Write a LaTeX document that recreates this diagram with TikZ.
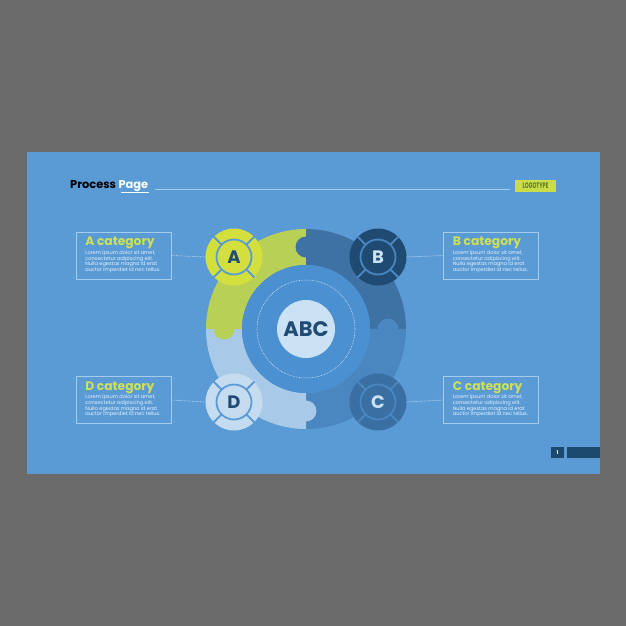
\documentclass[tikz,border=0pt]{standalone}
\usepackage{fontspec}
\setmainfont{Poppins}
\usetikzlibrary{calc}
\definecolor{bggray}{HTML}{6B6B6B}
\definecolor{slide}{HTML}{5A9BD6}
\definecolor{Aseg}{HTML}{B9D056}
\definecolor{Bseg}{HTML}{3E72A4}
\definecolor{Cseg}{HTML}{4A86C0}
\definecolor{Dseg}{HTML}{A8CAE8}
\definecolor{innerdisk}{HTML}{4B90D0}
\definecolor{abcfill}{HTML}{CBE1F4}
\definecolor{Acirc}{HTML}{D3DF3D}
\definecolor{Bcirc}{HTML}{1F4A72}
\definecolor{Ccirc}{HTML}{3A6FA3}
\definecolor{Dcirc}{HTML}{C5DCF0}
\definecolor{navy}{HTML}{1F4B74}
\definecolor{headcol}{HTML}{D0DF55}
\definecolor{bodycol}{HTML}{E8F1FA}
\definecolor{boxline}{HTML}{A5CBED}
\definecolor{pagedark}{HTML}{1C4A6E}
\definecolor{logofill}{HTML}{C9DC4A}
\definecolor{logotext}{HTML}{5F7A1E}
\tikzset{
  catbox/.style={draw=boxline, line width=0.7pt, minimum width=95pt, minimum height=47pt, inner sep=0pt},
  head/.style={font=\fontsize{12.3}{14}\selectfont\bfseries, text=headcol, inner sep=0pt},
  body/.style={font=\fontsize{5.05}{5.6}\selectfont, text=bodycol, inner sep=0pt, align=left},
  link/.style={densely dotted, draw=bodycol, line width=0.6pt},
  smallc/.style={circle, minimum size=57pt, inner sep=0pt},
  innerc/.style={circle, minimum size=35pt, inner sep=0pt, line width=1.8pt},
  letter/.style={font=\fontsize{18}{18}\selectfont\bfseries, inner sep=0pt}
}
\begin{document}
\begin{tikzpicture}[x=1pt,y=-1pt]
\useasboundingbox (0,0) rectangle (626,626);
\fill[bggray] (0,0) rectangle (626,626);
\fill[slide] (27,152) rectangle (600,474);
% header
\node[anchor=base west, inner sep=0pt, font=\fontsize{11.4}{13}\selectfont\bfseries] (title) at (70,188) {\textcolor{black}{Process} \textcolor{white}{Page}};
\draw[white, line width=0.9pt] (121,192.5) -- (149,192.5);
\draw[boxline, line width=0.8pt] (155,189) -- (510,189);
\node[fill=logofill, minimum width=41pt, minimum height=12pt, inner sep=0pt, text=logotext, font=\fontsize{8}{8}\selectfont\bfseries] (logo) at (535.5,185.5) {\scalebox{0.62}[1]{LOGOTYPE}};
% ring sectors
\coordinate (O) at (306,329);
\fill[Aseg] (206,329) arc[start angle=180,end angle=270,radius=100] -- (306,265) arc[start angle=270,end angle=180,radius=64] -- cycle;
\fill[Bseg] (306,229) arc[start angle=270,end angle=360,radius=100] -- (370,329) arc[start angle=0,end angle=-90,radius=64] -- cycle;
\fill[Cseg] (406,329) arc[start angle=0,end angle=90,radius=100] -- (306,393) arc[start angle=90,end angle=0,radius=64] -- cycle;
\fill[Dseg] (306,429) arc[start angle=90,end angle=180,radius=100] -- (242,329) arc[start angle=180,end angle=90,radius=64] -- cycle;
% tabs
\fill[Bseg] (306,247) circle[radius=10.5];
\fill[Aseg] (224,329) circle[radius=10.5];
\fill[Cseg] (388,329) circle[radius=10.5];
\fill[Dseg] (306,411) circle[radius=10.5];
% inner
\fill[innerdisk] (O) circle[radius=64];
\draw[bodycol, densely dotted, line width=0.6pt] (O) circle[radius=49];
\node[circle, fill=abcfill, minimum size=58pt, inner sep=0pt, text=navy, font=\fontsize{21}{21}\selectfont\bfseries] (abc) at (O) {ABC};
% small circles
\foreach \n/\x/\y/\f/\l/\t/\L in {A/234/257/Acirc/slide/navy/A, B/378/257/Bcirc/Cseg/abcfill/B, C/378/402/Ccirc/Cseg/abcfill/C, D/234/402/Dcirc/slide/navy/D}{
  \node[smallc, fill=\f] (c\n) at (\x,\y) {};
  \foreach \a in {45,135,225,315}
    \draw[\l, line width=1.8pt] (c\n.center) -- (c\n.\a);
  \node[innerc, fill=\f, draw=\l] (i\n) at (c\n) {};
  \node[letter, text=\t] (t\n) at (c\n) {\L};
}
% boxes
\node[catbox] (bA) at (123.5,255.5) {};
\node[catbox] (bB) at (491,255.5) {};
\node[catbox] (bD) at (123.5,400) {};
\node[catbox] (bC) at (491,400) {};
\foreach \b/\name in {bA/A, bB/B, bC/C, bD/D}{
  \node[head, anchor=base west] (h\b) at ($(\b.north west)+(9.5,14)$) {\name\ category};
  \node[body, anchor=north west] (t\b) at ($(\b.north west)+(9.5,18.8)$) {Lorem ipsum dolor sit amet,\\consectetur adipiscing elit.\\Nulla egestas magna id erat\\auctor imperdiet id nec tellus.};
}
\draw[link] (bA.east) -- (cA.west);
\draw[link] (cB.east) -- (bB.west);
\draw[link] (bD.east) -- (cD.west);
\draw[link] (cC.east) -- (bC.west);
% page number
\node[fill=pagedark, minimum width=13pt, minimum height=11pt, inner sep=0pt, text=white, font=\fontsize{5}{5}\selectfont\bfseries] (pnum) at (557.5,452.5) {1};
\fill[pagedark] (567,447) rectangle (600,458);
\end{tikzpicture}
\end{document}
